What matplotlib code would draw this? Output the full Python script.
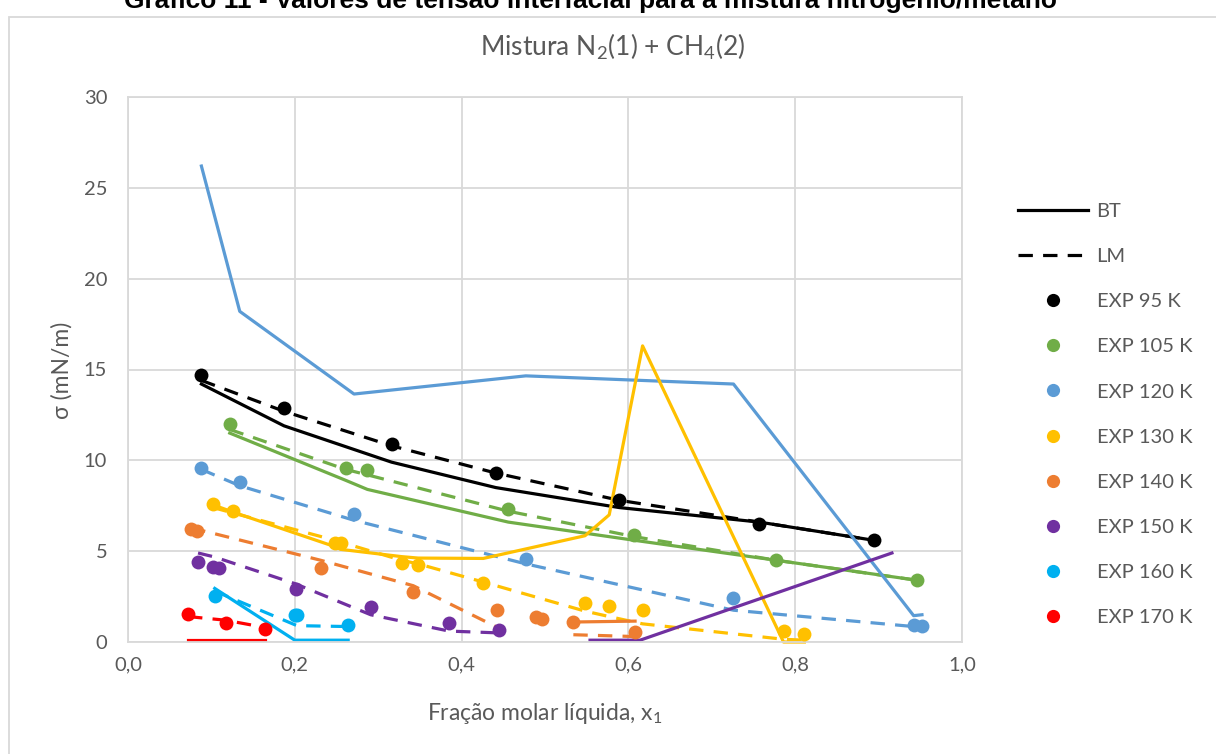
import matplotlib
matplotlib.use("Agg")
import matplotlib.pyplot as plt
import numpy as np
from matplotlib.lines import Line2D
from matplotlib.patches import Rectangle
from matplotlib.ticker import FuncFormatter, MultipleLocator

plt.rcParams['font.family'] = ['Lato', 'DejaVu Sans']

nan = np.nan

# experimental points, BT and LM model curves for each temperature
x95 = [0.088, 0.187, 0.316, 0.441, 0.589, 0.757, 0.894]
exp95 = [14.7, 12.9, 10.9, 9.3, 7.8, 6.5, 5.6]
bt95 = [14.2, 11.9, 9.9, 8.5, 7.4, 6.6, 5.6]
lm95 = [14.4, 12.7, 10.8, 9.3, 7.8, 6.6, 5.6]

x105 = [0.122, 0.261, 0.287, 0.456, 0.607, 0.777, 0.946]
exp105 = [12.0, 9.6, 9.45, 7.3, 5.9, 4.5, 3.4]
bt105 = [11.5, 8.9, 8.4, 6.6, 5.6, 4.5, 3.4]
lm105 = [11.7, 9.5, 9.2, 7.2, 5.8, 4.5, 3.4]

x120 = [0.088, 0.134, 0.271, 0.477, 0.726, 0.942, 0.952]
exp120 = [9.6, 8.8, 7.05, 4.55, 2.4, 0.95, 0.9]
bt120 = [26.2, 18.2, 13.65, 14.65, 14.2, 1.45, 1.5]
lm120 = [9.5, 8.6, 6.7, 4.3, 1.75, 0.85, 0.85]

x130 = [0.102, 0.126, 0.248, 0.255, 0.328, 0.348, 0.426, 0.548, 0.577, 0.617, 0.786, 0.811]
exp130 = [7.6, 7.2, 5.45, 5.45, 4.35, 4.25, 3.25, 2.15, 2.0, 1.75, 0.6, 0.45]
bt130 = [7.55, 7.15, 5.25, 5.1, 4.7, 4.62, 4.6, 5.85, 7.0, 16.3, 0.0, 0.0]
lm130 = [7.4, 7.1, 5.6, 5.5, 4.5, 4.3, 3.3, 1.7, 1.4, 1.0, 0.15, 0.1]

x140 = [0.076, 0.083, 0.231, 0.342, 0.443, 0.489, 0.496, 0.534, 0.608]
exp140 = [6.2, 6.1, 4.1, 2.75, 1.75, 1.35, 1.25, 1.1, 0.55]
bt140 = [nan, nan, nan, nan, nan, nan, nan, 1.1, 1.15]
lm140 = [6.3, 6.2, 4.5, 3.1, 0.8, nan, nan, 0.4, 0.3]

x150 = [0.084, 0.102, 0.109, 0.201, 0.291, 0.385, 0.445]
exp150 = [4.4, 4.15, 4.05, 2.9, 1.9, 1.05, 0.65]
lm150 = [4.9, 4.7, 4.6, 3.2, 1.5, 0.6, 0.5]
x150_bt = [0.554, 0.614, 0.916]
bt150 = [0.1, 0.1, 4.9]

x160 = [0.104, 0.200, 0.203, 0.264]
exp160 = [2.55, 1.5, 1.5, 0.95]
bt160 = [2.95, 0.1, 0.1, 0.1]
lm160 = [2.8, 0.95, 0.9, 0.85]

x170 = [0.072, 0.117, 0.164]
exp170 = [1.55, 1.05, 0.7]
bt170 = [0.1, 0.1, 0.1]
lm170 = [1.4, 1.2, 0.8]

labels = ['EXP 95 K', 'EXP 105 K', 'EXP 120 K', 'EXP 130 K',
          'EXP 140 K', 'EXP 150 K', 'EXP 160 K', 'EXP 170 K']
colors = ['#000000', '#70AD47', '#5B9BD5', '#FFC000',
          '#ED7D31', '#7030A0', '#00B0F0', '#FF0000']

series = [
    (x95, exp95, x95, bt95, lm95),
    (x105, exp105, x105, bt105, lm105),
    (x120, exp120, x120, bt120, lm120),
    (x130, exp130, x130, bt130, lm130),
    (x140, exp140, x140, bt140, lm140),
    (x150, exp150, x150_bt, bt150, lm150),
    (x160, exp160, x160, bt160, lm160),
    (x170, exp170, x170, bt170, lm170),
]

text_color = '#595959'
grid_color = '#d9d9d9'
lw = 2.3
dash = (4.5, 3.2)

fig = plt.figure(figsize=(12.16, 7.54), dpi=100)
ax = fig.add_axes([128 / 1216, 1 - 642 / 754, 834 / 1216, 545 / 754])

for (xe, ye, xb, yb, ylm), color in zip(series, colors):
    ax.plot(xb, yb, color=color, lw=lw, clip_on=False, zorder=2)
    ax.plot(xe, ylm, color=color, lw=lw, ls=(0, dash), clip_on=False, zorder=2)
for (xe, ye, xb, yb, ylm), color in zip(series, colors):
    ax.plot(xe, ye, 'o', color=color, ms=10, mew=0, clip_on=False, zorder=3)

ax.set_xlim(0, 1)
ax.set_ylim(0, 30)
ax.xaxis.set_major_locator(MultipleLocator(0.2))
ax.yaxis.set_major_locator(MultipleLocator(5))
ax.xaxis.set_major_formatter(FuncFormatter(lambda v, p: f"{v:.1f}".replace('.', ',')))
ax.yaxis.set_major_formatter(FuncFormatter(lambda v, p: f"{v:.0f}"))
ax.tick_params(length=0, labelsize=14.5, labelcolor=text_color)
ax.tick_params(axis='y', pad=15)
ax.tick_params(axis='x', pad=10)
ax.grid(color=grid_color, lw=1.3)
ax.set_axisbelow(True)
for s in ax.spines.values():
    s.set_color(grid_color)
    s.set_linewidth(1.3)

fig.text(62 / 1216, 1 - 370 / 754, 'σ (mN/m)', rotation=90, ha='center', va='center',
         fontsize=16.5, color=text_color)
fig.text(545 / 1216, 1 - 714 / 754, r'Fração molar líquida, x$_\mathregular{1}$',
         ha='center', va='center', fontsize=16.5, color=text_color)
fig.text(613 / 1216, 1 - 47 / 754, r'Mistura N$_\mathregular{2}$(1) + CH$_\mathregular{4}$(2)',
         ha='center', va='center', fontsize=19, color=text_color)

# caption cut off at the top of the image
fig.text(590 / 1216, 1 - 8 / 754,
         'Gráfico 11 - Valores de tensão interfacial para a mistura nitrogênio/metano',
         ha='center', va='baseline', fontsize=19, fontweight='bold',
         family=['Liberation Sans', 'DejaVu Sans'], color='#000000')

fig.patches.append(Rectangle((9 / 1216, -0.1), 1.2, 1.1 - 17 / 754, transform=fig.transFigure,
                             fill=False, edgecolor=grid_color, lw=1.3))

handles = [Line2D([], [], color='black', lw=lw),
           Line2D([], [], color='black', lw=lw, ls=(0, dash))]
handles += [Line2D([], [], marker='o', ls='none', color=c, ms=9.5, mew=0) for c in colors]
fig.legend(handles, ['BT', 'LM'] + labels, loc='center left',
           bbox_to_anchor=(1018 / 1216, 1 - 414.5 / 754), bbox_transform=fig.transFigure,
           frameon=False, fontsize=14.5, labelcolor=text_color, handlelength=3.5,
           handletextpad=0.4, labelspacing=1.39, borderpad=0, borderaxespad=0)

fig.savefig('out.png', dpi=100)
